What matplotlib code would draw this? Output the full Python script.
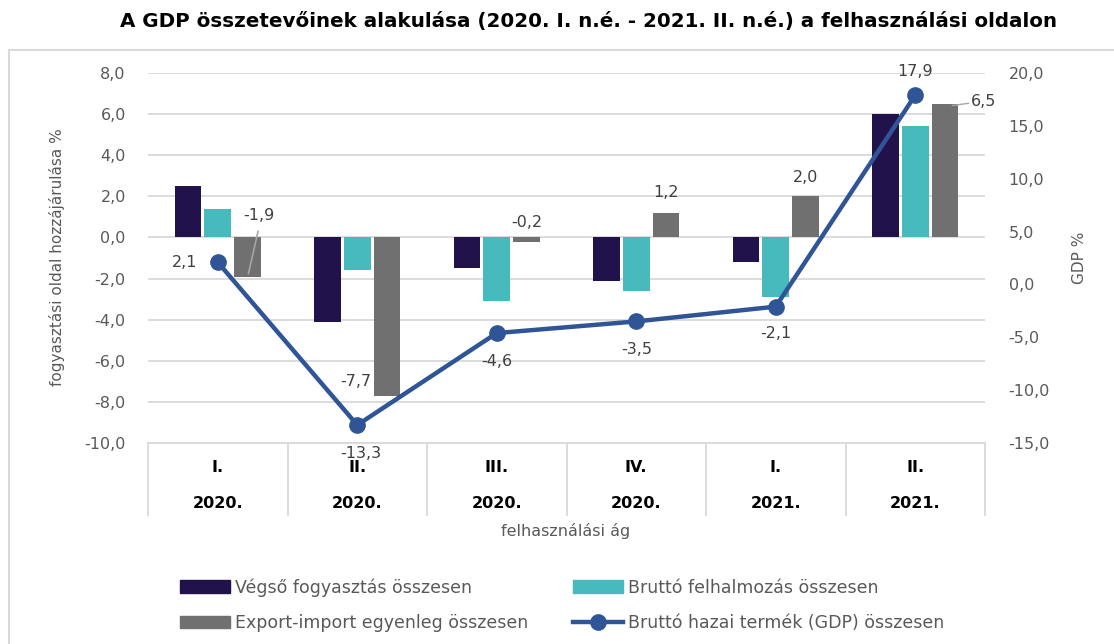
import matplotlib
matplotlib.use("Agg")
import matplotlib.pyplot as plt
from matplotlib.patches import Rectangle
from matplotlib.lines import Line2D
from matplotlib.ticker import FuncFormatter, MultipleLocator
import numpy as np

# ---- data ----
quarters = ["I.", "II.", "III.", "IV.", "I.", "II."]
years = ["2020.", "2020.", "2020.", "2020.", "2021.", "2021."]
vegso = [2.5, -4.1, -1.5, -2.1, -1.2, 6.0]
felhalmozas = [1.4, -1.6, -3.1, -2.6, -2.9, 5.4]
export_import = [-1.9, -7.7, -0.2, 1.2, 2.0, 6.5]
gdp = [2.1, -13.3, -4.6, -3.5, -2.1, 17.9]

series_names = ["Végső fogyasztás összesen", "Bruttó felhalmozás összesen",
                "Export-import egyenleg összesen", "Bruttó hazai termék (GDP) összesen"]

# ---- style ----
C_DARK = "#21124B"
C_CYAN = "#47BABD"
C_GRAY = "#707070"
C_LINE = "#2F5597"
C_GRID = "#D9D9D9"
C_TICK = "#595959"
C_LBL = "#404040"
W, H = 1114, 644

plt.rcParams["font.family"] = ["DejaVu Sans"]


def comma(v, _=None):
    return f"{v:.1f}".replace(".", ",")


fig = plt.figure(figsize=(W / 100, H / 100), dpi=100)
ax = fig.add_axes([148 / W, 1 - 443 / H, (985 - 148) / W, 370 / H])
ax2 = ax.twinx()

x = np.arange(len(quarters))
bw, off = 0.19, 0.215
ax.bar(x - off, vegso, bw, color=C_DARK, zorder=3)
ax.bar(x, felhalmozas, bw, color=C_CYAN, zorder=3)
ax.bar(x + off, export_import, bw, color=C_GRAY, zorder=3)

ax.set_xlim(-0.5, len(quarters) - 0.5)
ax.set_ylim(-10, 8)
ax.yaxis.set_major_locator(MultipleLocator(2))
ax.yaxis.set_major_formatter(FuncFormatter(comma))
ax.grid(axis="y", color=C_GRID, lw=1.3, zorder=0)
ax.set_xticks([])
for s in ["top", "left", "right"]:
    ax.spines[s].set_visible(False)
ax.spines["bottom"].set_color(C_GRID)
ax.spines["bottom"].set_linewidth(1.3)
ax.tick_params(axis="y", length=0, pad=16, labelsize=11.5, labelcolor=C_TICK)

ax2.plot(x, gdp, color=C_LINE, lw=3.2, marker="o", ms=11, zorder=5)
ax2.set_ylim(-15, 20)
ax2.yaxis.set_major_locator(MultipleLocator(5))
ax2.yaxis.set_major_formatter(FuncFormatter(comma))
for s in ["top", "left", "right", "bottom"]:
    ax2.spines[s].set_visible(False)
ax2.tick_params(axis="y", length=0, pad=17, labelsize=11.5, labelcolor=C_TICK)

# category axis (two-level labels with separators)
tr = ax.get_xaxis_transform()
sep_y = -(515 - 443) / 370
for k in range(len(quarters) + 1):
    ax.plot([k - 0.5, k - 0.5], [0, sep_y], transform=tr, color=C_GRID,
            lw=1.3, clip_on=False)
for k, (q, yr) in enumerate(zip(quarters, years)):
    ax.text(k, -(468 - 443) / 370, q, transform=tr, ha="center", va="center",
            fontsize=11.5, weight="bold", color="black")
    ax.text(k, -(503 - 443) / 370, yr, transform=tr, ha="center", va="center",
            fontsize=11.5, weight="bold", color="black")

# data labels: export-import bars
bar_lbl_off = [(11, 61), (-16, 14), (0, 19), (0, 20), (0, 19), (26, 2)]
bar_lbl_ha = ["center", "right", "center", "center", "center", "left"]
for k, v in enumerate(export_import):
    dx, dy = bar_lbl_off[k]
    ax.annotate(comma(v), (x[k] + off, v), xytext=(dx * 0.72, dy * 0.72),
                textcoords="offset points", ha=bar_lbl_ha[k], va="center",
                fontsize=11.5, color=C_LBL, zorder=6)
# leader lines
ax.annotate("", (x[0] + off, export_import[0]), xytext=(11 * 0.72, 48 * 0.72),
            textcoords="offset points",
            arrowprops=dict(arrowstyle="-", color="#A6A6A6", lw=1.2))
ax.annotate("", (x[5] + off + 0.03, export_import[5] - 0.1), xytext=(22 * 0.72, 3 * 0.72),
            textcoords="offset points",
            arrowprops=dict(arrowstyle="-", color="#A6A6A6", lw=1.0))

# data labels: GDP
gdp_lbl_off = [(-20, 0), (4, -28), (0, -28), (0, -28), (0, -27), (0, 24)]
gdp_lbl_ha = ["right", "center", "center", "center", "center", "center"]
for k, v in enumerate(gdp):
    dx, dy = gdp_lbl_off[k]
    ax2.annotate(comma(v), (x[k], v), xytext=(dx * 0.72, dy * 0.72),
                 textcoords="offset points", ha=gdp_lbl_ha[k], va="center",
                 fontsize=11.5, color=C_LBL, zorder=6)

# axis titles
fig.text(57 / W, 1 - 257 / H, "fogyasztási oldal hozzájárulása %", rotation=90,
         ha="center", va="center", fontsize=11, color=C_TICK)
fig.text(1080 / W, 1 - 258 / H, "GDP %", rotation=90,
         ha="center", va="center", fontsize=11, color=C_TICK)
fig.text(566 / W, 1 - 531 / H, "felhasználási ág", ha="center", va="center",
         fontsize=11.5, color=C_TICK)
fig.text(588 / W, 1 - 22 / H,
         "A GDP összetevőinek alakulása (2020. I. n.é. - 2021. II. n.é.) a felhasználási oldalon",
         ha="center", va="center", fontsize=14.3, weight="bold", color="black")

# legend
h_dark = Rectangle((0, 0), 1, 1, color=C_DARK)
h_cyan = Rectangle((0, 0), 1, 1, color=C_CYAN)
h_gray = Rectangle((0, 0), 1, 1, color=C_GRAY)
h_line, = ax2.plot([], [], color=C_LINE, lw=3.2, marker="o", ms=11)
leg = fig.legend([h_dark, h_gray, h_cyan, h_line],
                 [series_names[0], series_names[2], series_names[1], series_names[3]],
                 ncol=2, loc="center left", bbox_to_anchor=(180 / W, 1 - 605 / H),
                 frameon=False, fontsize=12.5, borderpad=0, borderaxespad=0,
                 handlelength=2.9, handletextpad=0.25, columnspacing=2.6,
                 labelspacing=1.0)
for t in leg.get_texts():
    t.set_color(C_TICK)

# outer frame (top and left edges visible)
fy = 1 - 50 / H
fx = 8.6 / W
fig.add_artist(Line2D([fx, 1.0], [fy, fy], transform=fig.transFigure,
                      color=C_GRID, lw=1.5))
fig.add_artist(Line2D([fx, fx], [0, fy], transform=fig.transFigure,
                      color=C_GRID, lw=1.5))

fig.savefig("out.png", dpi=100)
